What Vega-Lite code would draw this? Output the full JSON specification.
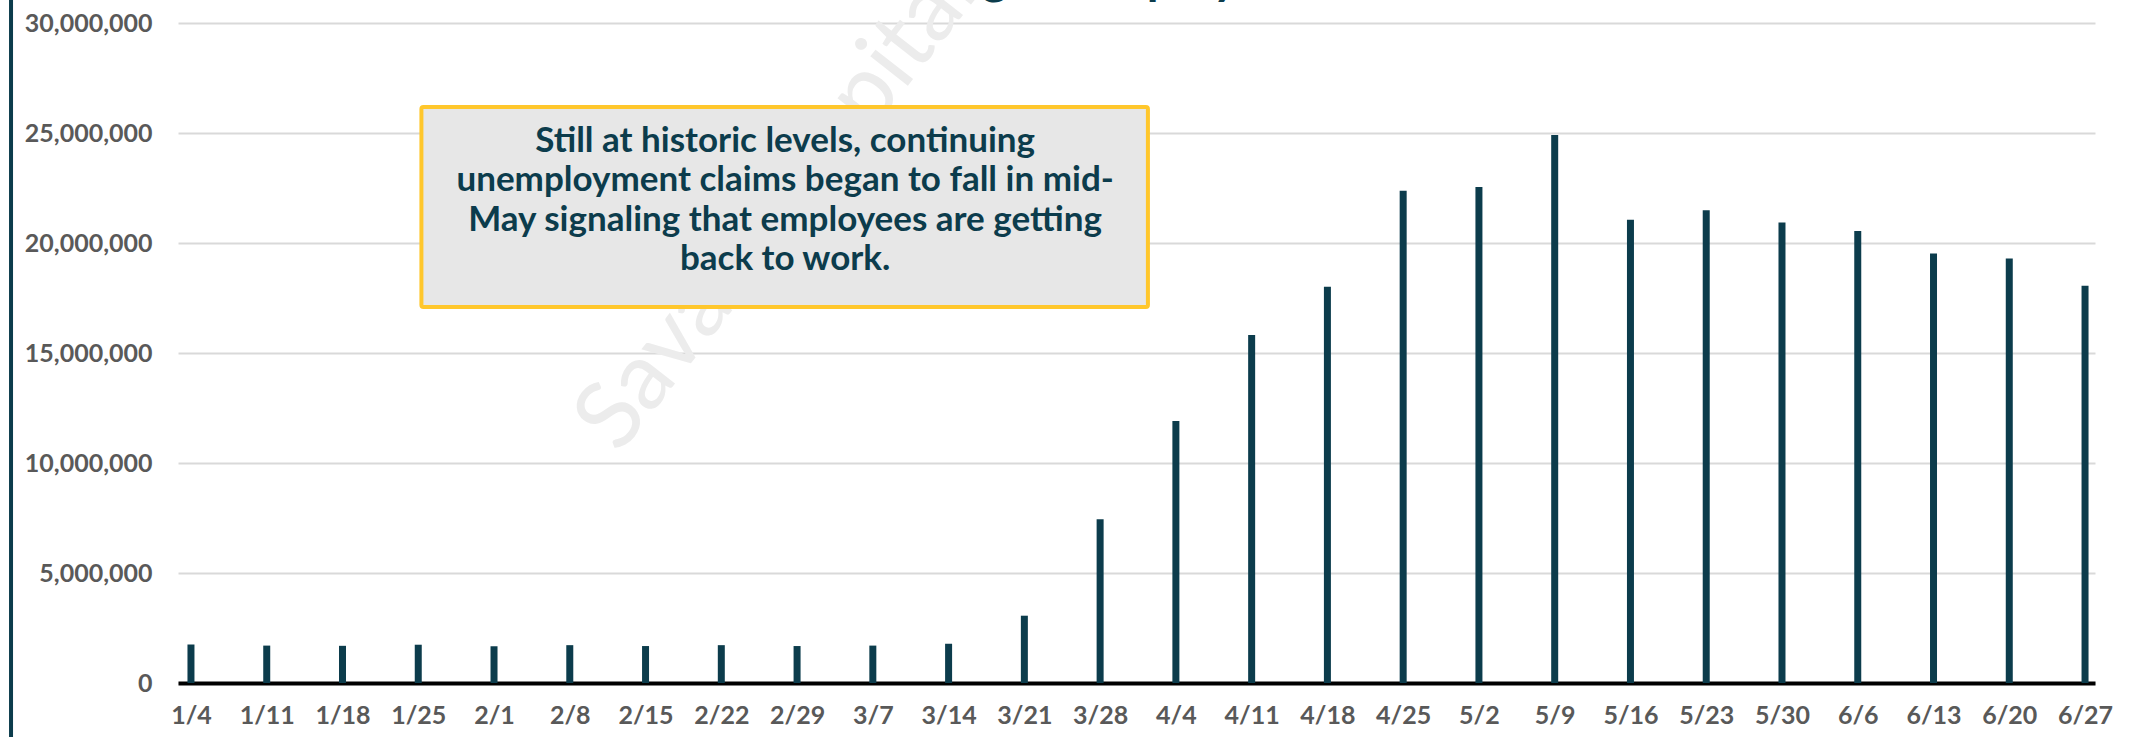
{
  "$schema": "https://vega.github.io/schema/vega-lite/v6.json",
  "autosize": {"type": "none"},
  "width": 1917,
  "height": 660,
  "padding": {"left": 178, "top": 23, "right": 47, "bottom": 54},
  "background": "white",
  "config": {"view": {"stroke": null}},
  "datasets": {
    "claims": [
      {"week": "2020-01-04T00:00:00", "claims": 1750000},
      {"week": "2020-01-11T00:00:00", "claims": 1700000},
      {"week": "2020-01-18T00:00:00", "claims": 1690000},
      {"week": "2020-01-25T00:00:00", "claims": 1740000},
      {"week": "2020-02-01T00:00:00", "claims": 1670000},
      {"week": "2020-02-08T00:00:00", "claims": 1720000},
      {"week": "2020-02-15T00:00:00", "claims": 1680000},
      {"week": "2020-02-22T00:00:00", "claims": 1720000},
      {"week": "2020-02-29T00:00:00", "claims": 1680000},
      {"week": "2020-03-07T00:00:00", "claims": 1700000},
      {"week": "2020-03-14T00:00:00", "claims": 1784000},
      {"week": "2020-03-21T00:00:00", "claims": 3059000},
      {"week": "2020-03-28T00:00:00", "claims": 7446000},
      {"week": "2020-04-04T00:00:00", "claims": 11914000},
      {"week": "2020-04-11T00:00:00", "claims": 15819000},
      {"week": "2020-04-18T00:00:00", "claims": 18011000},
      {"week": "2020-04-25T00:00:00", "claims": 22377000},
      {"week": "2020-05-02T00:00:00", "claims": 22548000},
      {"week": "2020-05-09T00:00:00", "claims": 24912000},
      {"week": "2020-05-16T00:00:00", "claims": 21052000},
      {"week": "2020-05-23T00:00:00", "claims": 21487000},
      {"week": "2020-05-30T00:00:00", "claims": 20929000},
      {"week": "2020-06-06T00:00:00", "claims": 20544000},
      {"week": "2020-06-13T00:00:00", "claims": 19522000},
      {"week": "2020-06-20T00:00:00", "claims": 19290000},
      {"week": "2020-06-27T00:00:00", "claims": 18062000}
    ],
    "note": [
      {"note": "Still at historic levels, continuing\nunemployment claims began to fall in mid-\nMay signaling that employees are getting\nback to work.", "mark": "Savant Capital", "title": "Continuing Unemployment Claims"}
    ]
  },
  "layer": [
    {
      "data": {"name": "note"},
      "mark": {"type": "text", "font": "Lato", "fontSize": 94, "color": "#ECECEC", "angle": 308, "align": "center", "baseline": "middle"},
      "encoding": {
        "x": {"datum": {"year": 2020, "month": 2, "date": 27, "hours": 5}, "type": "temporal",
              "scale": {"domain": [{"year": 2020, "month": 1, "date": 3, "hours": 6, "minutes": 20}, {"year": 2020, "month": 6, "date": 27, "hours": 11}]}},
        "y": {"datum": 21650000, "type": "quantitative", "scale": {"domain": [0, 30000000], "nice": false}},
        "text": {"field": "mark"}
      }
    },
    {
      "data": {"name": "note"},
      "mark": {"type": "text", "font": "Lato", "fontWeight": "bold", "fontSize": 48, "color": "#0C3C4C", "align": "center", "baseline": "alphabetic"},
      "encoding": {
        "x": {"datum": {"year": 2020, "month": 3, "date": 31, "hours": 9, "minutes": 40}, "type": "temporal",
              "scale": {"domain": [{"year": 2020, "month": 1, "date": 3, "hours": 6, "minutes": 20}, {"year": 2020, "month": 6, "date": 27, "hours": 11}]}},
        "y": {"datum": 31300000, "type": "quantitative", "scale": {"domain": [0, 30000000], "nice": false}},
        "text": {"field": "title"}
      }
    },
    {
      "data": {"name": "claims"},
      "mark": {"type": "bar", "width": 7, "color": "#0C3C4C"},
      "encoding": {
        "x": {
          "field": "week", "type": "temporal",
          "scale": {"domain": [{"year": 2020, "month": 1, "date": 3, "hours": 6, "minutes": 20}, {"year": 2020, "month": 6, "date": 27, "hours": 11}]},
          "axis": {
            "title": null,
            "format": "%-m/%-d",
            "values": [
              {"year": 2020, "month": 1, "date": 4}, {"year": 2020, "month": 1, "date": 11}, {"year": 2020, "month": 1, "date": 18}, {"year": 2020, "month": 1, "date": 25},
              {"year": 2020, "month": 2, "date": 1}, {"year": 2020, "month": 2, "date": 8}, {"year": 2020, "month": 2, "date": 15}, {"year": 2020, "month": 2, "date": 22}, {"year": 2020, "month": 2, "date": 29},
              {"year": 2020, "month": 3, "date": 7}, {"year": 2020, "month": 3, "date": 14}, {"year": 2020, "month": 3, "date": 21}, {"year": 2020, "month": 3, "date": 28},
              {"year": 2020, "month": 4, "date": 4}, {"year": 2020, "month": 4, "date": 11}, {"year": 2020, "month": 4, "date": 18}, {"year": 2020, "month": 4, "date": 25},
              {"year": 2020, "month": 5, "date": 2}, {"year": 2020, "month": 5, "date": 9}, {"year": 2020, "month": 5, "date": 16}, {"year": 2020, "month": 5, "date": 23}, {"year": 2020, "month": 5, "date": 30},
              {"year": 2020, "month": 6, "date": 6}, {"year": 2020, "month": 6, "date": 13}, {"year": 2020, "month": 6, "date": 20}, {"year": 2020, "month": 6, "date": 27}
            ],
            "grid": false,
            "ticks": false,
            "domain": true,
            "domainColor": "#000000",
            "domainWidth": 4,
            "labelFont": "Lato",
            "labelFontWeight": "bold",
            "labelFontSize": 25,
            "labelColor": "#595959",
            "labelPadding": 20,
            "labelFlush": false,
            "labelOverlap": false
          }
        },
        "y": {
          "field": "claims", "type": "quantitative",
          "scale": {"domain": [0, 30000000], "nice": false},
          "axis": {
            "title": null,
            "values": [0, 5000000, 10000000, 15000000, 20000000, 25000000, 30000000],
            "format": ",d",
            "grid": true,
            "gridColor": "#D9D9D9",
            "gridWidth": 2,
            "ticks": false,
            "domain": false,
            "labelFont": "Lato",
            "labelFontWeight": "bold",
            "labelFontSize": 25,
            "labelColor": "#595959",
            "labelPadding": 26
          }
        }
      }
    },
    {
      "data": {"name": "note"},
      "mark": {"type": "rect", "fill": "#E7E7E7", "stroke": "#FFC72C", "strokeWidth": 4, "cornerRadius": 2},
      "encoding": {
        "x": {"datum": {"year": 2020, "month": 1, "date": 25, "hours": 7}, "type": "temporal",
              "scale": {"domain": [{"year": 2020, "month": 1, "date": 3, "hours": 6, "minutes": 20}, {"year": 2020, "month": 6, "date": 27, "hours": 11}]}},
        "x2": {"datum": {"year": 2020, "month": 4, "date": 1, "hours": 10}},
        "y": {"datum": 26180000, "type": "quantitative", "scale": {"domain": [0, 30000000], "nice": false}},
        "y2": {"datum": 17090000}
      }
    },
    {
      "data": {"name": "note"},
      "mark": {"type": "text", "font": "Lato", "fontWeight": "bold", "fontSize": 35, "color": "#0C3C4C", "lineBreak": "\n", "lineHeight": 39.5, "align": "center", "baseline": "middle"},
      "encoding": {
        "x": {"datum": {"year": 2020, "month": 2, "date": 27, "hours": 21, "minutes": 30}, "type": "temporal",
              "scale": {"domain": [{"year": 2020, "month": 1, "date": 3, "hours": 6, "minutes": 20}, {"year": 2020, "month": 6, "date": 27, "hours": 11}]}},
        "y": {"datum": 24640000, "type": "quantitative", "scale": {"domain": [0, 30000000], "nice": false}},
        "text": {"field": "note"}
      }
    },
    {
      "data": {"name": "note"},
      "mark": {"type": "rule", "color": "#0C3C4C", "strokeWidth": 4},
      "encoding": {
        "x": {"datum": {"year": 2019, "month": 12, "date": 18, "hours": 9}, "type": "temporal",
              "scale": {"domain": [{"year": 2020, "month": 1, "date": 3, "hours": 6, "minutes": 20}, {"year": 2020, "month": 6, "date": 27, "hours": 11}]}},
        "y": {"datum": -3000000, "type": "quantitative", "scale": {"domain": [0, 30000000], "nice": false}},
        "y2": {"datum": 32000000}
      }
    }
  ]
}
